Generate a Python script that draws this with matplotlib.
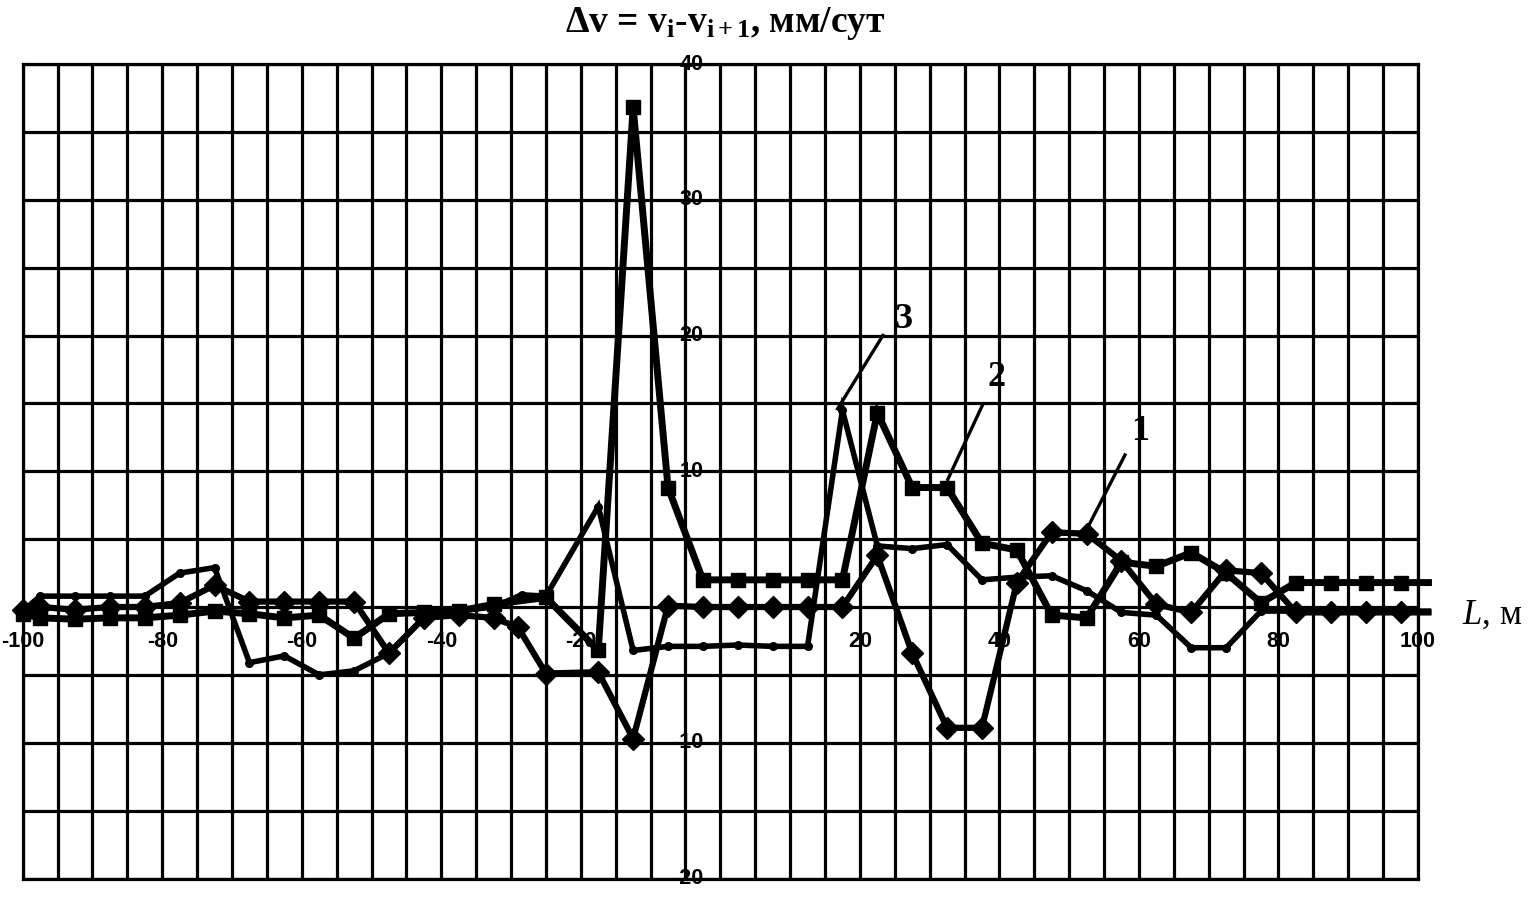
import numpy as np
import matplotlib
matplotlib.use("Agg")
import matplotlib.pyplot as plt

plt.rcParams['mathtext.fontset'] = 'custom'
plt.rcParams['mathtext.rm'] = 'Liberation Serif:bold'
plt.rcParams['mathtext.it'] = 'Liberation Serif:italic'
plt.rcParams['mathtext.bf'] = 'Liberation Serif:bold'

# ---- data ----
# series 1 (diamonds)
x1 = [-100, -97.5, -92.5, -87.5, -82.5, -77.5, -72.5, -67.5, -62.5, -57.5, -52.5,
      -47.5, -42.5, -37.5, -32.5, -29, -25, -17.5, -12.5, -7.5, -2.5, 2.5, 7.5,
      12.5, 17.5, 22.5, 27.5, 32.5, 37.5, 42.5, 47.5, 52.5, 57.5, 62.5, 67.5,
      72.5, 77.5, 82.5, 87.5, 92.5, 97.5, 101.5]
y1 = [-0.2, 0.0, -0.2, 0.0, 0.0, 0.3, 1.6, 0.4, 0.4, 0.4, 0.4,
      -3.4, -0.8, -0.6, -0.8, -1.5, -4.9, -4.8, -9.7, 0.1, 0.0, 0.0, 0.0,
      0.0, 0.0, 3.8, -3.4, -8.9, -8.9, 1.8, 5.5, 5.4, 3.4, 0.2, -0.4,
      2.7, 2.5, -0.4, -0.4, -0.4, -0.4, -0.4]

# series 2 (squares)
x2 = [-100, -97.5, -92.5, -87.5, -82.5, -77.5, -72.5, -67.5, -62.5, -57.5, -52.5,
      -47.5, -42.5, -37.5, -32.5, -25, -17.5, -12.5, -7.5, -2.5, 2.5, 7.5,
      12.5, 17.5, 22.5, 27.5, 32.5, 37.5, 42.5, 47.5, 52.5, 57.5, 62.5, 67.5,
      72.5, 77.5, 82.5, 87.5, 92.5, 97.5, 101.5]
y2 = [-0.5, -0.8, -0.9, -0.8, -0.8, -0.6, -0.3, -0.5, -0.8, -0.6, -2.3,
      -0.5, -0.4, -0.3, 0.2, 0.7, -3.2, 36.8, 8.8, 2.0, 2.0, 2.0,
      2.0, 2.0, 14.3, 8.8, 8.8, 4.7, 4.2, -0.6, -0.8, 3.3, 3.0, 4.0,
      2.5, 0.3, 1.8, 1.8, 1.8, 1.8, 1.8]

# series 3 (small dots)
x3 = [-100, -97.5, -92.5, -87.5, -82.5, -77.5, -72.5, -67.5, -62.5, -57.5, -52.5,
      -47.5, -42.5, -37.5, -32.5, -28.5, -25, -17.5, -12.5, -7.5, -2.5, 2.5, 7.5,
      12.5, 17.5, 22.5, 27.5, 32.5, 37.5, 42.5, 47.5, 52.5, 57.5, 62.5, 67.5,
      72.5, 77.5, 82.5, 87.5, 92.5, 97.5, 101.5]
y3 = [-0.3, 0.8, 0.8, 0.8, 0.8, 2.5, 2.9, -4.1, -3.6, -5.0, -4.7,
      -3.4, -0.8, -0.3, 0.0, 0.9, 0.8, 7.4, -3.2, -2.9, -2.9, -2.8, -2.9,
      -2.9, 14.5, 4.5, 4.3, 4.6, 2.0, 2.2, 2.3, 1.2, -0.4, -0.6, -3.0,
      -3.0, -0.3, -0.3, -0.3, -0.3, -0.3, -0.3]

x_ticks = [-100, -80, -60, -40, -20, 20, 40, 60, 80, 100]
x_tick_labels = ["-100", "-80", "-60", "-40", "-20", "20", "40", "60", "80", "100"]
y_ticks = [40, 30, 20, 10, -10, -20]
y_tick_labels = ["40", "30", "20", "10", "-10", "-20"]

series_labels = ["1", "2", "3"]
# (anchor on curve, end of leader, label position)
leaders = [((52.4, 5.6), (58.0, 11.2), (60.2, 12.9)),
           ((32.6, 9.4), (37.6, 14.9), (39.6, 16.9)),
           ((16.8, 14.6), (23.3, 20.0), (26.3, 21.2))]

# ---- figure ----
fig = plt.figure(figsize=(15.32, 8.98), dpi=100)
ax = fig.add_axes([22.7 / 1532, 1 - 878.5 / 898, 1395.3 / 1532, 814.5 / 898])
ax.set_xlim(-100, 100)
ax.set_ylim(-20, 40)
ax.set_xticks(np.arange(-100, 101, 5))
ax.set_yticks(np.arange(-20, 41, 5))
ax.grid(True, color='black', linewidth=2.3, zorder=1)
ax.set_axisbelow(True)
ax.tick_params(length=0, labelbottom=False, labelleft=False)
for s in ax.spines.values():
    s.set_linewidth(2.3)
    s.set_color('black')

ax.plot(x2, y2, color='black', lw=5.0, marker='s', markersize=10.5,
        markevery=slice(0, len(x2) - 1), clip_on=False, zorder=5,
        solid_joinstyle='miter')
ax.plot(x1, y1, color='black', lw=4.5, marker='D', markersize=11,
        markevery=slice(0, len(x1) - 1), clip_on=False, zorder=4,
        solid_joinstyle='miter')
ax.plot(x3, y3, color='black', lw=4.0, marker='o', markersize=5.5,
        markevery=slice(0, len(x3) - 1), clip_on=False, zorder=4,
        solid_joinstyle='miter')

# leader lines and series labels
for lab, (a, b, t) in zip(series_labels, leaders):
    ax.plot([a[0], b[0]], [a[1], b[1]], color='black', lw=2.4, zorder=6)
    ax.text(t[0], t[1], lab, fontsize=26, fontweight='bold',
            family='Liberation Serif', ha='center', va='center', zorder=7)

# tick labels
for xv, lab in zip(x_ticks, x_tick_labels):
    ax.text(xv, -2.55, lab, fontsize=15.5, fontweight='bold',
            family='Liberation Sans', ha='center', va='center', zorder=3)
for yv, lab in zip(y_ticks, y_tick_labels):
    ax.text(-2.4, yv, lab, fontsize=15.5, fontweight='bold',
            family='Liberation Sans', ha='right', va='center', zorder=3)

# title
fig.text(565 / 1532, 1 - 24 / 898, r"$\Delta$v = v$_{\rm i}$-v$_{\rm i+1}$, мм/сут",
         fontsize=27, fontweight='bold', family='Liberation Serif',
         ha='left', va='center')

# axis label
fig.text(1462 / 1532, 1 - 615 / 898, r"$\mathit{L}$, м", fontsize=25,
         family='Liberation Serif', ha='left', va='center')

fig.savefig("out.png", dpi=100)
